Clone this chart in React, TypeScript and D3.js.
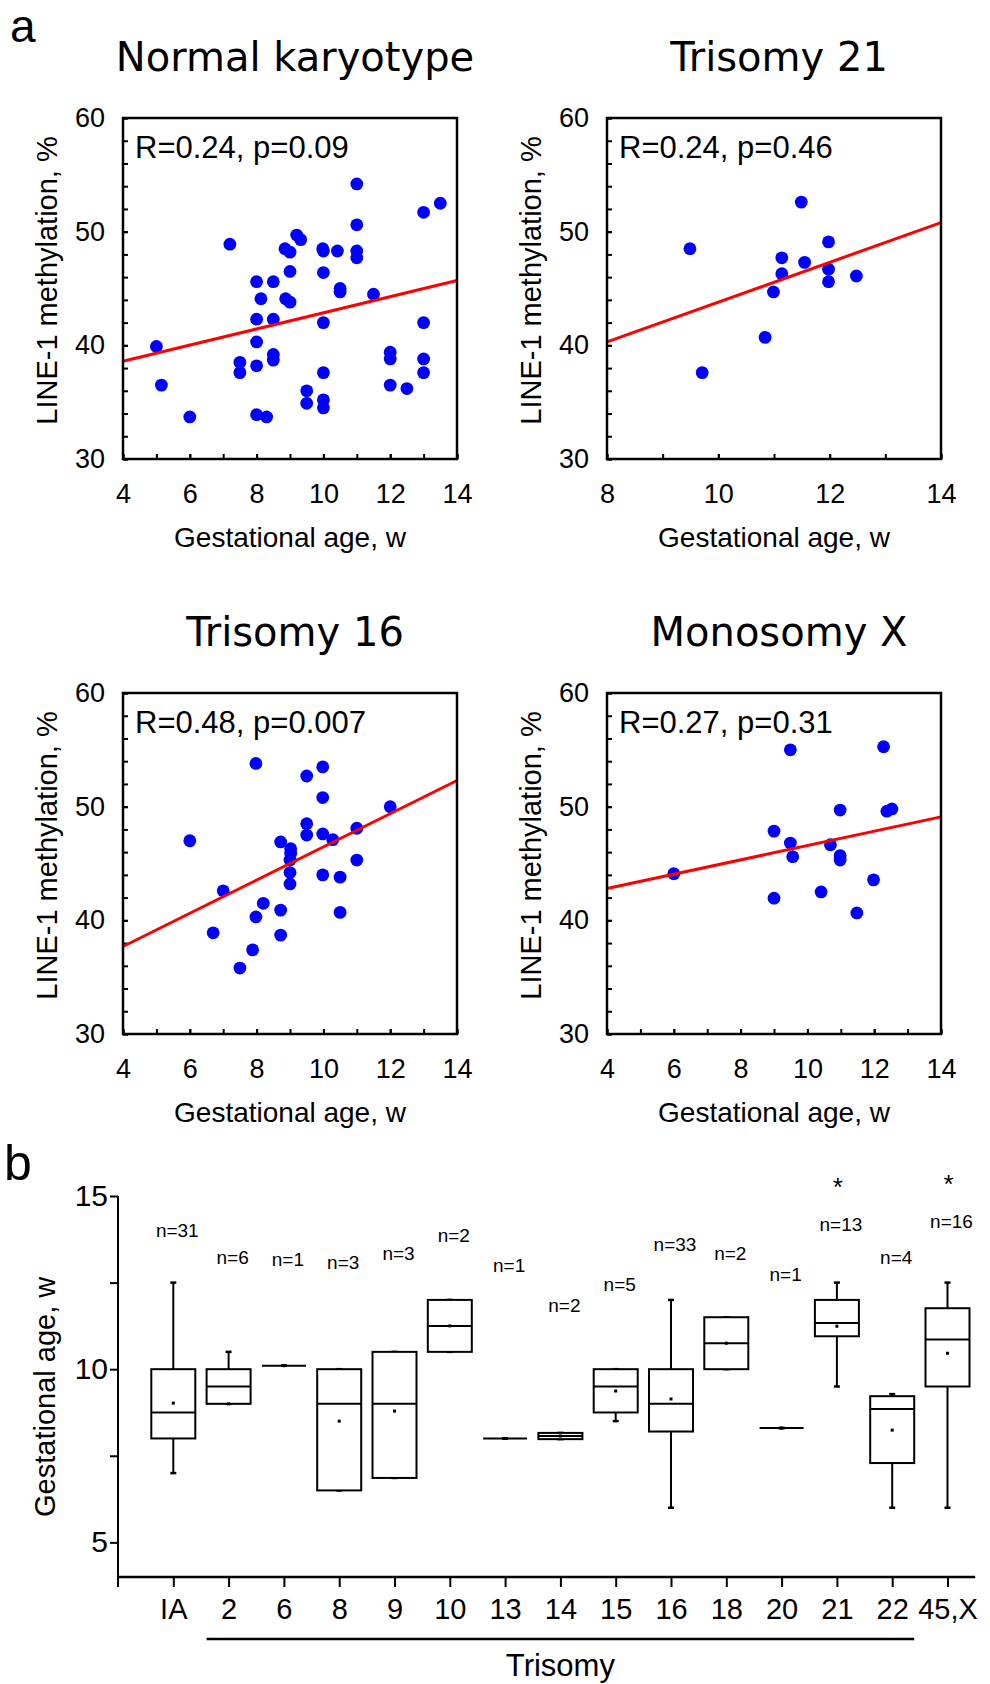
import React, { useRef, useEffect } from 'react';
import * as d3 from 'd3';

const W = 990;
const H = 1684;
const SANS = 'Liberation Sans, Arial, Helvetica, sans-serif';
const WIDE = 'DejaVu Sans, Verdana, sans-serif';

// panel a: gestational age (w) vs LINE-1 methylation (%)
const normalAge = [5.0, 5.15, 6.0, 7.2, 7.5, 7.5, 8.0, 8.13, 8.0, 8.0, 8.0, 8.0, 8.3, 8.5, 8.5, 8.5, 8.5, 8.85, 9.0, 9.0, 8.87, 9.0, 9.2, 9.32, 9.5, 9.5, 9.98, 10.0, 10.0, 10.0, 10.0, 10.0, 10.0, 10.42, 10.5, 10.5, 11.0, 11.0, 11.0, 11.0, 11.5, 12.0, 12.0, 12.0, 12.5, 13.0, 13.0, 13.0, 13.0, 13.5];
const normalMeth = [39.9, 36.5, 33.7, 48.9, 38.5, 37.6, 45.6, 44.1, 42.3, 40.3, 38.2, 33.9, 33.7, 45.6, 42.3, 39.2, 38.7, 48.5, 48.2, 46.5, 44.1, 43.8, 49.7, 49.3, 36.0, 34.9, 48.5, 48.3, 46.4, 42.0, 37.6, 35.2, 34.5, 48.3, 45.0, 44.7, 54.2, 50.6, 48.3, 47.7, 44.5, 39.4, 38.8, 36.5, 36.2, 51.7, 42.0, 38.8, 37.6, 52.5];

const t21Age = [9.49, 9.71, 10.84, 10.99, 11.14, 11.14, 11.49, 11.55, 11.98, 11.98, 11.98, 12.48];
const t21Meth = [48.5, 37.6, 40.7, 44.7, 47.7, 46.3, 52.6, 47.3, 49.1, 46.7, 45.6, 46.1];

const t16Age = [6.0, 6.7, 7.0, 7.5, 7.88, 7.98, 7.98, 8.2, 8.72, 8.72, 8.72, 9.02, 9.02, 9.0, 9.0, 9.0, 9.5, 9.5, 9.5, 9.98, 9.98, 9.98, 9.98, 10.28, 10.5, 10.5, 11.0, 11.0, 12.0];
const t16Meth = [47.0, 38.9, 42.6, 35.8, 37.4, 53.8, 40.3, 41.5, 46.9, 40.9, 38.7, 46.3, 45.9, 45.3, 44.2, 43.2, 52.7, 48.5, 47.5, 53.5, 50.8, 47.6, 44.0, 47.1, 43.8, 40.7, 48.1, 45.3, 50.0];

const mxAge = [6.0, 9.0, 9.0, 9.49, 9.49, 9.56, 10.41, 10.69, 10.98, 10.98, 10.98, 11.48, 11.98, 12.28, 12.38, 12.53];
const mxMeth = [44.1, 47.85, 41.95, 55.0, 46.8, 45.6, 42.5, 46.65, 49.7, 45.7, 45.3, 40.65, 43.56, 55.27, 49.6, 49.8];

// regression line: methylation at the two ends of the x domain
const normalFit = [38.6, 45.7];
const t21Fit = [40.3, 50.8];
const t16Fit = [37.7, 52.3];
const mxFit = [42.8, 49.1];

const panelTitles = ['Normal karyotype', 'Trisomy 21', 'Trisomy 16', 'Monosomy X'];
const panelStats = ['R=0.24, p=0.09', 'R=0.24, p=0.46', 'R=0.48, p=0.007', 'R=0.27, p=0.31'];

// panel b: gestational age by karyotype
const boxCats = ['IA', '2', '6', '8', '9', '10', '13', '14', '15', '16', '18', '20', '21', '22', '45,X'];
const boxMin = [7, 9, 10.1, 6.5, 6.86, 10.5, 8, 7.98, 8.5, 6, 10, 8.3, 9.5, 6, 6];
const boxQ1 = [8, 9, 10.1, 6.5, 6.86, 10.5, 8, 7.98, 8.75, 8.2, 10, 8.3, 10.95, 7.29, 9.5];
const boxMed = [8.75, 9.5, 10.1, 9, 9, 11.25, 8, 8.07, 9.5, 9, 10.75, 8.3, 11.33, 8.85, 10.86];
const boxQ3 = [10, 10, 10.1, 10, 10.5, 12, 8, 8.16, 10, 10, 11.5, 8.3, 12, 9.22, 11.76];
const boxMax = [12.5, 10.5, 10.1, 10, 10.5, 12, 8, 8.16, 10, 12, 11.5, 8.3, 12.5, 9.28, 12.5];
const boxMean = [9.02, 9.0, 10.1, 8.5, 8.79, 11.25, 8, 8.07, 9.37, 9.14, 10.75, 8.3, 11.24, 8.24, 10.46];
const nLabels = ['n=31', 'n=6', 'n=1', 'n=3', 'n=3', 'n=2', 'n=1', 'n=2', 'n=5', 'n=33', 'n=2', 'n=1', 'n=13', 'n=4', 'n=16'];
const nLabelAt = [13.83, 13.03, 12.97, 12.88, 13.14, 13.66, 12.8, 11.64, 12.25, 13.4, 13.14, 12.54, 14.0, 13.05, 14.09];
const starred = ['21', '45,X'];
const trisomyCats = ['2', '22'];

interface Panel {
  title: string;
  stat: string;
  ages: number[];
  meth: number[];
  fit: number[];
  xDomain: [number, number];
  left: number;
  top: number;
}

const panels: Panel[] = [
  { title: panelTitles[0], stat: panelStats[0], ages: normalAge, meth: normalMeth, fit: normalFit, xDomain: [4, 14], left: 123, top: 118 },
  { title: panelTitles[1], stat: panelStats[1], ages: t21Age, meth: t21Meth, fit: t21Fit, xDomain: [8, 14], left: 607, top: 118 },
  { title: panelTitles[2], stat: panelStats[2], ages: t16Age, meth: t16Meth, fit: t16Fit, xDomain: [4, 14], left: 123, top: 693 },
  { title: panelTitles[3], stat: panelStats[3], ages: mxAge, meth: mxMeth, fit: mxFit, xDomain: [4, 14], left: 607, top: 693 },
];

const PW = 334;
const PH = 341;

function styleAxis(g: d3.Selection<SVGGElement, unknown, null, undefined>, size: number) {
  g.attr('font-family', SANS).attr('font-size', size);
  g.select('.domain').remove();
  g.selectAll('.tick line').attr('stroke', '#000').attr('stroke-width', 2);
  g.selectAll('.tick text').attr('fill', '#000');
}

function drawScatter(svg: d3.Selection<SVGSVGElement, unknown, null, undefined>, p: Panel) {
  const x = d3.scaleLinear().domain(p.xDomain).range([p.left, p.left + PW]);
  const y = d3.scaleLinear().domain([30, 60]).range([p.top + PH, p.top]);
  const g = svg.append('g');

  g.append('text')
    .attr('x', p.left + PW / 2 + 5)
    .attr('y', p.top - 47)
    .attr('text-anchor', 'middle')
    .attr('font-family', WIDE)
    .attr('font-size', 40)
    .text(p.title);

  // ticks (inward)
  const xMinor = d3.range(p.xDomain[0], p.xDomain[1] + 0.01, 1);
  const xMajor = xMinor.filter(v => v % 2 === 0);
  const yMinor = d3.range(30, 60.01, 2);
  const yMajor = [30, 40, 50, 60];

  const xm = g.append('g').attr('transform', `translate(0,${p.top + PH})`)
    .call(d3.axisBottom(x).tickValues(xMinor).tickSize(-5).tickFormat(() => ''));
  styleAxis(xm, 27);
  const xM = g.append('g').attr('transform', `translate(0,${p.top + PH})`)
    .call(d3.axisBottom(x).tickValues(xMajor).tickSize(-5).tickPadding(25).tickFormat(d3.format('d')));
  styleAxis(xM, 27);

  const ym = g.append('g').attr('transform', `translate(${p.left},0)`)
    .call(d3.axisLeft(y).tickValues(yMinor).tickSize(-5).tickFormat(() => ''));
  styleAxis(ym, 27);
  const yM = g.append('g').attr('transform', `translate(${p.left},0)`)
    .call(d3.axisLeft(y).tickValues(yMajor).tickSize(-5).tickPadding(18).tickFormat(d3.format('d')));
  styleAxis(yM, 27);

  g.append('text')
    .attr('x', p.left + PW / 2)
    .attr('y', p.top + PH + 88)
    .attr('text-anchor', 'middle')
    .attr('font-family', SANS)
    .attr('font-size', 28)
    .text('Gestational age, w');

  g.append('text')
    .attr('transform', `translate(${p.left - 66},${p.top + PH / 2 - 8}) rotate(-90)`)
    .attr('text-anchor', 'middle')
    .attr('font-family', SANS)
    .attr('font-size', 29)
    .text('LINE-1 methylation, %');

  g.append('text')
    .attr('x', p.left + 12)
    .attr('y', p.top + 40)
    .attr('font-family', SANS)
    .attr('font-size', 31)
    .text(p.stat);

  g.selectAll('circle.pt')
    .data(p.ages.map((a, i) => [a, p.meth[i]]))
    .enter()
    .append('circle')
    .attr('class', 'pt')
    .attr('cx', d => x(d[0]))
    .attr('cy', d => y(d[1]))
    .attr('r', 6.4)
    .attr('fill', '#0000ff');

  g.append('line')
    .attr('x1', x(p.xDomain[0]))
    .attr('y1', y(p.fit[0]))
    .attr('x2', x(p.xDomain[1]))
    .attr('y2', y(p.fit[1]))
    .attr('stroke', '#ff0000')
    .attr('stroke-width', 3);

  g.append('rect')
    .attr('x', p.left)
    .attr('y', p.top)
    .attr('width', PW)
    .attr('height', PH)
    .attr('fill', 'none')
    .attr('stroke', '#000')
    .attr('stroke-width', 2.5);
}

function drawBoxes(svg: d3.Selection<SVGSVGElement, unknown, null, undefined>) {
  const x = d3.scalePoint<string>().domain(boxCats).range([173.3, 947.5]);
  const step = x.step();
  const x0 = x(boxCats[0])! - step;
  const y = d3.scaleLinear().domain([4, 15]).range([1577, 1196]);
  const g = svg.append('g');
  const hw = 22;

  // y axis
  g.append('line').attr('x1', x0).attr('x2', x0).attr('y1', y(15)).attr('y2', y(4))
    .attr('stroke', '#000').attr('stroke-width', 2);
  const ym = g.append('g').attr('transform', `translate(${x0},0)`)
    .call(d3.axisLeft(y).tickValues([7.5, 12.5]).tickSize(8).tickFormat(() => ''));
  styleAxis(ym, 30);
  const yM = g.append('g').attr('transform', `translate(${x0},0)`)
    .call(d3.axisLeft(y).tickValues([5, 10, 15]).tickSize(8).tickPadding(2).tickFormat(d3.format('d')));
  styleAxis(yM, 30);

  g.append('text')
    .attr('transform', `translate(55,${y(9.2)}) rotate(-90)`)
    .attr('text-anchor', 'middle')
    .attr('font-family', SANS)
    .attr('font-size', 29)
    .text('Gestational age, w');

  // x axis
  g.append('line').attr('x1', x0).attr('x2', x(boxCats[boxCats.length - 1])! + step / 2)
    .attr('y1', y(4)).attr('y2', y(4)).attr('stroke', '#000').attr('stroke-width', 2.5);
  g.append('line').attr('x1', x0).attr('x2', x0).attr('y1', y(4)).attr('y2', y(4) + 10)
    .attr('stroke', '#000').attr('stroke-width', 2);
  const xa = g.append('g').attr('transform', `translate(0,${y(4)})`)
    .call(d3.axisBottom(x).tickSize(10).tickPadding(11));
  styleAxis(xa, 29);

  const tx1 = x(trisomyCats[0])! - hw;
  const tx2 = x(trisomyCats[1])! + hw;
  g.append('line').attr('x1', tx1).attr('x2', tx2).attr('y1', 1639).attr('y2', 1639)
    .attr('stroke', '#000').attr('stroke-width', 2.5);
  g.append('text')
    .attr('x', (tx1 + tx2) / 2)
    .attr('y', 1676)
    .attr('text-anchor', 'middle')
    .attr('font-family', SANS)
    .attr('font-size', 31)
    .text('Trisomy');

  boxCats.forEach((c, i) => {
    const cx = x(c)!;
    const bg = g.append('g').attr('stroke', '#000').attr('stroke-width', 2).attr('fill', 'none');
    // whiskers
    if (boxMax[i] > boxQ3[i]) {
      bg.append('line').attr('x1', cx).attr('x2', cx).attr('y1', y(boxQ3[i])).attr('y2', y(boxMax[i]));
    }
    if (boxMin[i] < boxQ1[i]) {
      bg.append('line').attr('x1', cx).attr('x2', cx).attr('y1', y(boxQ1[i])).attr('y2', y(boxMin[i]));
    }
    [boxMin[i], boxMax[i]].forEach(v => {
      bg.append('line').attr('x1', cx - 3).attr('x2', cx + 3).attr('y1', y(v)).attr('y2', y(v))
        .attr('stroke-width', 2.5);
    });
    if (boxQ3[i] > boxQ1[i]) {
      bg.append('rect')
        .attr('x', cx - hw)
        .attr('y', y(boxQ3[i]))
        .attr('width', hw * 2)
        .attr('height', y(boxQ1[i]) - y(boxQ3[i]))
        .attr('fill', '#fff');
    }
    bg.append('line').attr('x1', cx - hw).attr('x2', cx + hw)
      .attr('y1', y(boxMed[i])).attr('y2', y(boxMed[i]));
    g.append('rect')
      .attr('x', cx - 1.5)
      .attr('y', y(boxMean[i]) - 1.5)
      .attr('width', 3)
      .attr('height', 3)
      .attr('fill', '#000');

    g.append('text')
      .attr('x', cx + 4)
      .attr('y', y(nLabelAt[i]))
      .attr('text-anchor', 'middle')
      .attr('font-family', SANS)
      .attr('font-size', 19)
      .text(nLabels[i]);

    if (starred.includes(c)) {
      g.append('text')
        .attr('x', cx + 1)
        .attr('y', y(nLabelAt[i]) - 35)
        .attr('text-anchor', 'middle')
        .attr('font-family', SANS)
        .attr('font-size', 26)
        .text('*');
    }
  });
}

export default function App() {
  const svgRef = useRef<SVGSVGElement>(null);

  useEffect(() => {
    if (!svgRef.current) return;
    const svg = d3.select(svgRef.current);
    svg.selectAll('*').remove();

    svg.append('rect').attr('width', W).attr('height', H).attr('fill', '#fff');

    svg.append('text').attr('x', 10).attr('y', 42)
      .attr('font-family', SANS).attr('font-size', 46).text('a');
    svg.append('text').attr('x', 4).attr('y', 1180)
      .attr('font-family', SANS).attr('font-size', 50).text('b');

    panels.forEach(p => drawScatter(svg, p));
    drawBoxes(svg);
  }, []);

  return (
    <svg
      ref={svgRef}
      width={W}
      height={H}
      style={{ position: 'absolute', left: 0, top: 0, display: 'block' }}
    />
  );
}
